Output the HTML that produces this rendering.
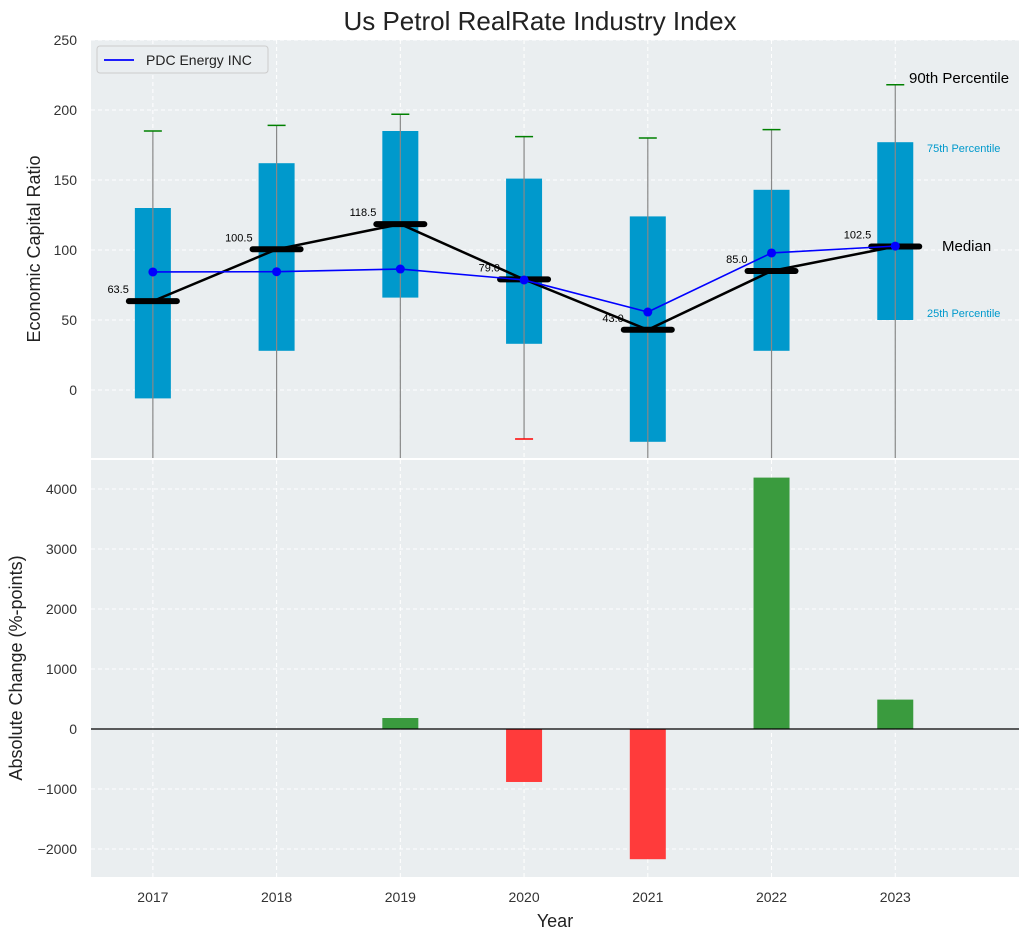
<!DOCTYPE html>
<html><head><meta charset="utf-8"><style>
body{margin:0;background:#fff;font-family:"Liberation Sans",sans-serif}
</style></head><body>
<svg id="chart" width="1030" height="940" xmlns="http://www.w3.org/2000/svg" font-family="Liberation Sans, sans-serif">
<text x="540" y="30" font-size="26" text-anchor="middle" fill="#222">Us Petrol RealRate Industry Index</text>
<g id="topg"></g><g id="botg"></g>
<text x="555" y="927" font-size="18" text-anchor="middle" fill="#222">Year</text>
<text transform="translate(40,249) rotate(-90)" font-size="18" text-anchor="middle" fill="#222">Economic Capital Ratio</text>
<text transform="translate(22,668) rotate(-90)" font-size="18" text-anchor="middle" fill="#222">Absolute Change (%-points)</text>
</svg>
<script>
const years=["2017","2018","2019","2020","2021","2022","2023"];
const q1=[-6,28,66,33,-37,28,50];
const q3=[130,162,185,151,124,143,177];
const whiskHigh=[185,189,197,181,180,186,218];
const whiskLow=[-60,-60,-60,-35,-60,-60,-60];
const medians=[63.5,100.5,118.5,79.0,43.0,85.0,102.5];
const company=[84.3,84.5,86.4,78.6,55.7,97.9,102.8];
const changes=[0,0,183,-883,-2170,4190,490];
const topTicks=[0,50,100,150,200,250];
const botTicks=[-2000,-1000,0,1000,2000,3000,4000];
const NS="http://www.w3.org/2000/svg";
function el(p,t,a){const e=document.createElementNS(NS,t);for(const k in a)e.setAttribute(k,a[k]);p.appendChild(e);return e;}
const L=91,R=1019;
const x=i=>L+(i+0.5)/7.5*(R-L);
const yT=v=>390-v*1.4;
const yB=v=>729-v*0.06;
const topG=document.getElementById('topg'),botG=document.getElementById('botg');
const p1=el(topG,'rect',{x:L,y:40,width:R-L,height:418,fill:'#eaeef0'});


const p2=el(botG,'rect',{x:L,y:460,width:R-L,height:417,fill:'#eaeef0'});


const cp=el(topG,'clipPath',{id:'c1'});el(cp,'rect',{x:L,y:40,width:R-L,height:418});
topTicks.forEach(v=>{el(topG,'line',{x1:L,x2:R,y1:yT(v),y2:yT(v),stroke:'#fff','stroke-dasharray':'4,3'});
const t=el(topG,'text',{x:L-14,y:yT(v)+5,'font-size':14,'text-anchor':'end',fill:'#333'});t.textContent=v;

});
botTicks.forEach(v=>{el(botG,'line',{x1:L,x2:R,y1:yB(v),y2:yB(v),stroke:'#fff','stroke-dasharray':'4,3'});
const t=el(botG,'text',{x:L-14,y:yB(v)+5,'font-size':14,'text-anchor':'end',fill:'#333'});t.textContent=String(v).replace('-','\u2212');

});
years.forEach((yr,i)=>{el(topG,'line',{x1:x(i),x2:x(i),y1:40,y2:458,stroke:'#fff','stroke-dasharray':'4,3'});
el(botG,'line',{x1:x(i),x2:x(i),y1:460,y2:877,stroke:'#fff','stroke-dasharray':'4,3'});
const t=el(botG,'text',{x:x(i),y:902,'font-size':14,'text-anchor':'middle',fill:'#333'});t.textContent=yr;

});
const g=el(topG,'g',{'clip-path':'url(#c1)'});
const bw=36;
years.forEach((yr,i)=>{
 const b=el(g,'rect',{x:x(i)-bw/2,y:yT(q3[i]),width:bw,height:yT(q1[i])-yT(q3[i]),fill:'#0099cc'});
 
 
 el(g,'line',{x1:x(i),x2:x(i),y1:yT(whiskHigh[i]),y2:yT(whiskLow[i]),stroke:'#888','stroke-width':1.2});
 el(g,'line',{x1:x(i)-9,x2:x(i)+9,y1:yT(whiskHigh[i]),y2:yT(whiskHigh[i]),stroke:'green','stroke-width':1.5});
 if(whiskLow[i]>-48) el(g,'line',{x1:x(i)-9,x2:x(i)+9,y1:yT(whiskLow[i]),y2:yT(whiskLow[i]),stroke:'red','stroke-width':1.5});
});
let d='';medians.forEach((m,i)=>d+=(i?'L':'M')+x(i)+','+yT(m));
const ml=el(g,'path',{d:d,fill:'none',stroke:'#000','stroke-width':2.5});


medians.forEach((m,i)=>{const s=el(g,'line',{x1:x(i)-24,x2:x(i)+24,y1:yT(m),y2:yT(m),stroke:'#000','stroke-width':6,'stroke-linecap':'round'});


const t=el(topG,'text',{x:x(i)-24,y:yT(m)-8,'font-size':11,'text-anchor':'end',fill:'#000'});t.textContent=m.toFixed(1);

});
d='';company.forEach((v,i)=>d+=(i?'L':'M')+x(i)+','+yT(v));
const cl=el(g,'path',{d:d,fill:'none',stroke:'#0000ff','stroke-width':1.6});


company.forEach((v,i)=>{const c=el(g,'circle',{cx:x(i),cy:yT(v),r:4.5,fill:'#0000ff'});

});
const ann=[[909,83,'90th Percentile',15,'#000'],[927,152,'75th Percentile',11,'#0099cc'],[927,317,'25th Percentile',11,'#0099cc'],[942,251,'Median',15,'#000']];
ann.forEach(a=>{const t=el(topG,'text',{x:a[0],y:a[1],'font-size':a[3],fill:a[4]});t.textContent=a[2];

});
const lg=el(topG,'g',{});


el(lg,'rect',{x:97,y:46,width:171,height:27,rx:3,fill:'#eaeef0',stroke:'#ccc'});
el(lg,'line',{x1:104,x2:134,y1:60,y2:60,stroke:'#0000ff','stroke-width':1.8});
const lt=el(lg,'text',{x:146,y:65,'font-size':14,fill:'#222'});lt.textContent='PDC Energy INC';
changes.forEach((v,i)=>{if(v===0)return;const r=el(botG,'rect',{x:x(i)-18,y:Math.min(yB(v),yB(0)),width:36,height:Math.abs(yB(v)-yB(0)),fill:v>0?'#3a9b3e':'#ff3b3b'});

});
el(botG,'line',{x1:L,x2:R,y1:yB(0),y2:yB(0),stroke:'#000','stroke-width':1.2});
</script>
</body></html>
